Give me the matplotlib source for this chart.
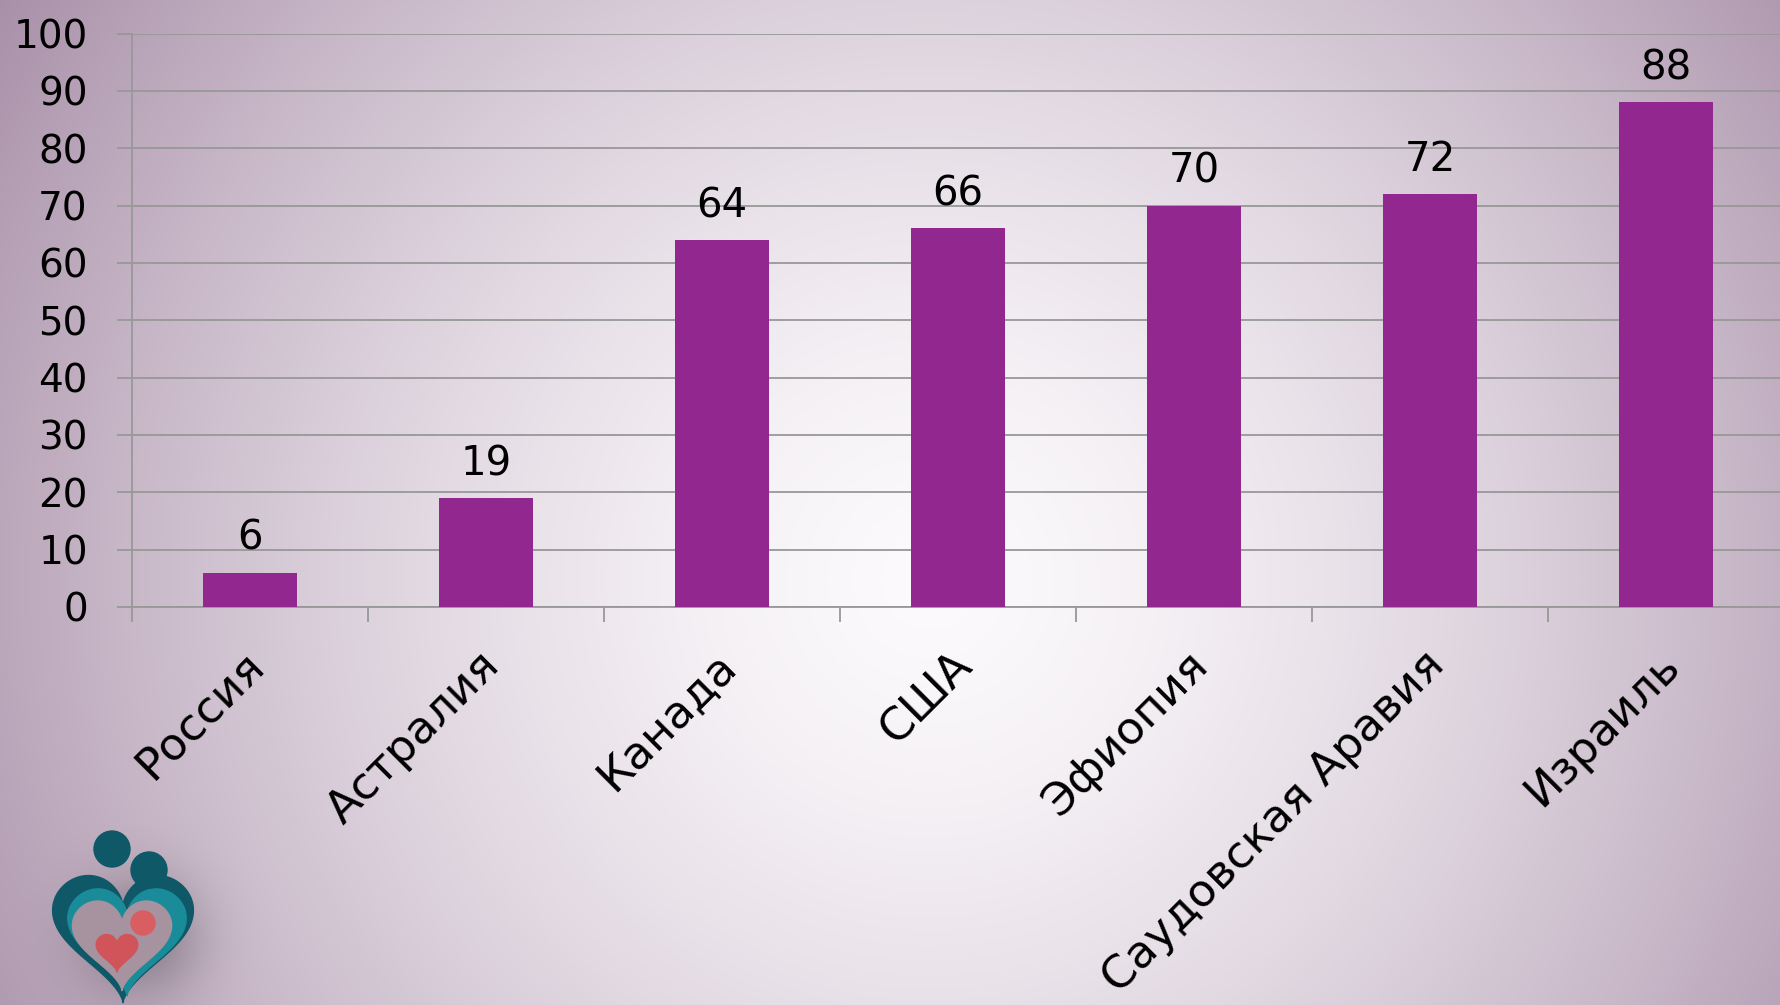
import numpy as np
import matplotlib
matplotlib.use("Agg")
import matplotlib.pyplot as plt
from matplotlib.patches import Polygon, Circle
from matplotlib.transforms import ScaledTranslation

categories = ["Россия", "Астралия", "Канада", "США", "Эфиопия", "Саудовская Аравия", "Израиль"]
values = [6, 19, 64, 66, 70, 72, 88]
y_ticks = [0, 10, 20, 30, 40, 50, 60, 70, 80, 90, 100]

plt.rcParams['font.family'] = ['DejaVu Sans']

W, H = 1781, 1005
fig = plt.figure(figsize=(W / 100, H / 100), dpi=100)

# ---- background gradient ----
yy, xx = np.mgrid[0:H, 0:W].astype(float)
d = np.sqrt(((xx - 930) / 1050) ** 2 + ((yy - 580) / 1050) ** 2)
f = np.clip(d, 0, 1.3) ** 1.5
white = np.array([252, 250, 252]) / 255
purple = np.array([174, 151, 174]) / 255
img = white[None, None, :] + (purple - white)[None, None, :] * f[..., None]
shadow = 0.28 * np.exp(-((xx - 140) ** 2 + (yy - 935) ** 2) / (2 * 42 ** 2))
img = img * (1 - shadow[..., None])
img = np.clip(img, 0, 1)

bg = fig.add_axes([0, 0, 1, 1], zorder=-10)
bg.imshow(img, extent=(0, W, H, 0), aspect='auto', interpolation='bilinear')
bg.set_xlim(0, W)
bg.set_ylim(H, 0)
bg.axis('off')

# ---- logo (decorative) ----
t = np.linspace(0, 2 * np.pi, 400)
hx = 16 * np.sin(t) ** 3
hy = 13 * np.cos(t) - 5 * np.cos(2 * t) - 2 * np.cos(3 * t) - np.cos(4 * t)


def heart(cx, cy, s):
    return np.column_stack([cx + s * hx, cy - s * hy])


bg.add_patch(Polygon(heart(123, 928, 4.4), closed=True, color='#0f5868', zorder=2))
bg.add_patch(Polygon(heart(127, 933, 3.7), closed=True, color='#1a8b98', zorder=2))
bg.add_patch(Polygon(heart(122, 938, 3.1), closed=True, color='#a6939f', zorder=2))
bg.add_patch(Circle((112, 849), 18, color='#0f5868', zorder=3))
bg.add_patch(Circle((149, 870), 18, color='#0f5868', zorder=3))
bg.add_patch(Polygon(heart(117, 950, 1.3), closed=True, color='#d0545a', zorder=4))
bg.add_patch(Circle((143, 923), 12, color='#d85e62', zorder=4))

# ---- main chart ----
left_px, right_px, top_px, bot_px = 132, 1784, 33.5, 607
ax = fig.add_axes([left_px / W, 1 - bot_px / H, (right_px - left_px) / W, (bot_px - top_px) / H])
ax.set_facecolor('none')

x = np.arange(len(categories))
ax.bar(x, values, width=0.4, color='#92278F', zorder=3)
ax.set_xlim(-0.5, len(categories) - 0.5)
ax.set_ylim(0, 100)

gc = '#989898'
ax.set_yticks(y_ticks)
ax.yaxis.grid(True, color=gc, linewidth=1.3)
ax.set_axisbelow(True)
for s in ['top', 'right']:
    ax.spines[s].set_visible(False)
for s in ['left', 'bottom']:
    ax.spines[s].set_color(gc)
    ax.spines[s].set_linewidth(1.3)
ax.tick_params(axis='y', length=10.8, width=1.3, color=gc, pad=21, labelsize=28)

ax.set_xticks(x)
ax.set_xticklabels(categories, rotation=45, ha='right', va='top', rotation_mode='anchor', fontsize=32.5)
ax.tick_params(axis='x', which='major', length=0, pad=26)
ax.set_xticks(np.arange(-0.5, len(categories)), minor=True)
ax.tick_params(axis='x', which='minor', length=10.8, width=1.3, color=gc)
offset = ScaledTranslation(-8 / 100, 0, fig.dpi_scale_trans)
for lab in ax.get_xticklabels():
    lab.set_transform(lab.get_transform() + offset)

for xi, v in zip(x, values):
    ax.annotate(str(v), (xi, v), xytext=(0, 16.5), textcoords='offset points',
                ha='center', va='baseline', fontsize=29, color='black')

fig.savefig('out.png', dpi=100)
